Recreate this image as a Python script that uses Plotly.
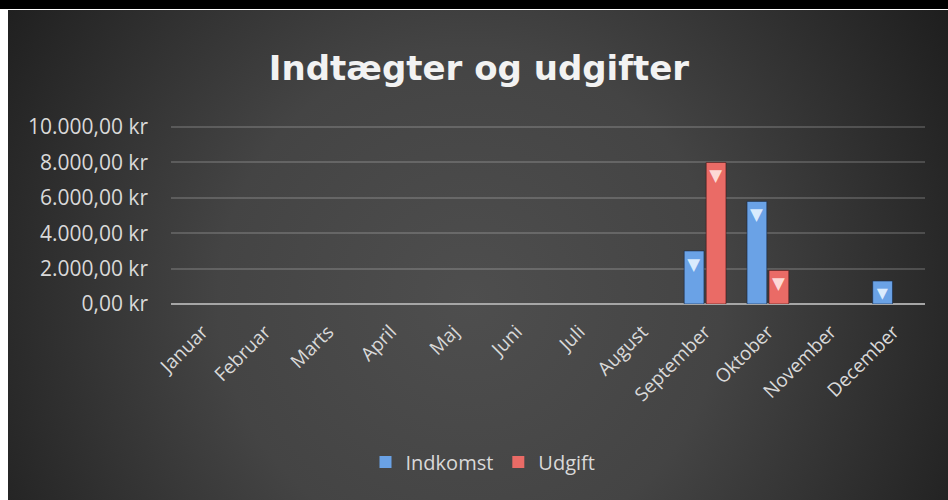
import plotly.graph_objects as go
import urllib.parse

months = ["Januar", "Februar", "Marts", "April", "Maj", "Juni", "Juli",
          "August", "September", "Oktober", "November", "December"]
indkomst = [0, 0, 0, 0, 0, 0, 0, 0, 3000, 5800, 0, 1300]
udgift = [0, 0, 0, 0, 0, 0, 0, 0, 8000, 1900, 0, 0]
tick_vals = [0, 2000, 4000, 6000, 8000, 10000]
tick_text = ["0,00 kr", "2.000,00 kr", "4.000,00 kr", "6.000,00 kr",
             "8.000,00 kr", "10.000,00 kr"]

W, H = 948, 500
ML, MR, MT, MB = 171, 23, 120, 196
PW, PH = W - ML - MR, H - MT - MB

svg = f'''<svg xmlns="http://www.w3.org/2000/svg" width="{W}" height="{H}" viewBox="0 0 {W} {H}">
<defs><radialGradient id="g" gradientUnits="userSpaceOnUse" cx="470" cy="300" r="560">
<stop offset="0" stop-color="#4e4e4e"/><stop offset="0.45" stop-color="#444444"/>
<stop offset="1" stop-color="#1e1e1e"/></radialGradient></defs>
<rect x="0" y="0" width="{W}" height="{H}" fill="#ffffff"/>
<rect x="8" y="10" width="{W-8}" height="{H-10}" fill="url(#g)"/>
<rect x="0" y="0" width="{W}" height="9" fill="#000000"/>
</svg>'''
bg_src = "data:image/svg+xml;charset=utf-8," + urllib.parse.quote(svg)

font = "'Open Sans', Lato, sans-serif"

def marks(vals):
    return ["▼" if v > 0 else "" for v in vals]

def edge(vals):
    return [1 if v > 0 else 0 for v in vals]

fig = go.Figure()
fig.add_trace(go.Bar(
    x=months, y=indkomst, name="Indkomst",
    marker=dict(color="#6aa2e6", line=dict(color="rgba(20,40,70,0.6)", width=edge(indkomst))),
    text=marks(indkomst), textposition="inside", insidetextanchor="end",
    textangle=0, textfont=dict(family="DejaVu Sans", size=17, color="rgba(225,240,255,0.95)"),
    cliponaxis=False,
))
fig.add_trace(go.Bar(
    x=months, y=udgift, name="Udgift",
    marker=dict(color="#ea6b66", line=dict(color="rgba(70,20,20,0.6)", width=edge(udgift))),
    text=marks(udgift), textposition="inside", insidetextanchor="end",
    textangle=0, textfont=dict(family="DejaVu Sans", size=17, color="rgba(255,225,222,0.95)"),
    cliponaxis=False,
))

fig.update_layout(
    width=W, height=H,
    margin=dict(l=ML, r=MR, t=MT, b=MB, pad=0),
    paper_bgcolor="#333333",
    plot_bgcolor="rgba(0,0,0,0)",
    barmode="group", bargap=0.3, bargroupgap=0.1,
    font=dict(family=font, color="#d9d9d9"),
    title=dict(text="<b>Indtægter og udgifter</b>", x=479 / W, xref="container",
               xanchor="center", y=1 - 68 / H, yref="container", yanchor="middle",
               font=dict(family="DejaVu Sans", size=34, color="#f2f2f2")),
    showlegend=True,
    legend=dict(orientation="h", x=483 / W, xref="container", xanchor="center",
                y=1 - 462 / H, yref="container", yanchor="middle",
                font=dict(family=font, size=20, color="#d9d9d9"),
                bgcolor="rgba(0,0,0,0)", itemwidth=30, tracegroupgap=0),
    images=[dict(source=bg_src, xref="paper", yref="paper",
                 x=-ML / PW, y=1 + MT / PH, sizex=W / PW, sizey=H / PH,
                 xanchor="left", yanchor="top", sizing="stretch", layer="below")],
)
fig.update_xaxes(showgrid=False, showline=False, ticks="", tickangle=-45,
                 ticklabelstandoff=12,
                 tickfont=dict(family=font, size=19, color="#d9d9d9"))
fig.update_yaxes(range=[0, 10400], tickvals=tick_vals, ticktext=tick_text,
                 showgrid=True, gridcolor="rgba(255,255,255,0.17)", gridwidth=2,
                 zeroline=True, zerolinecolor="#a6a6a6", zerolinewidth=2,
                 ticks="", ticklabelstandoff=22,
                 tickfont=dict(family=font, size=21, color="#d9d9d9"))

fig.write_html("out.html", config={"displayModeBar": False},
               post_script="document.body.style.margin='0px';document.body.style.overflow='hidden';")
